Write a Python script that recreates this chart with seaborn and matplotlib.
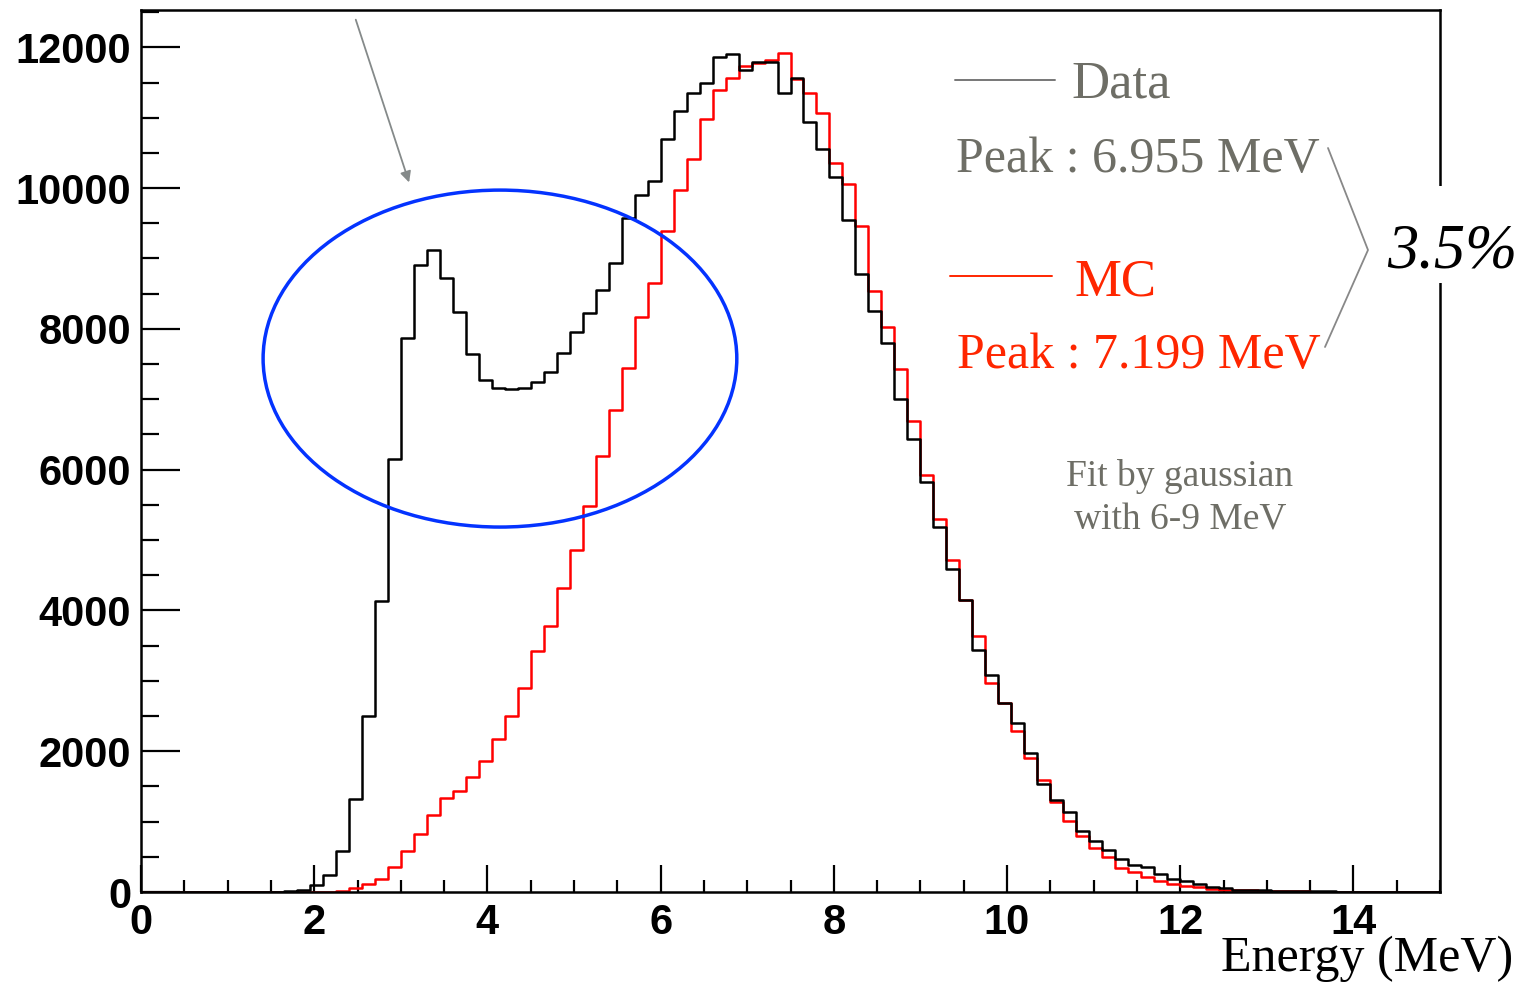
import matplotlib

matplotlib.use("Agg")

import matplotlib.pyplot as plt
import pandas as pd
import seaborn as sns
from matplotlib.lines import Line2D
from matplotlib.patches import Ellipse, Rectangle
from matplotlib.ticker import MultipleLocator


# 100 bins of 0.15 MeV from 0 to 15 MeV
BIN_WIDTH = 0.15
N_BINS = 100

data_counts = [
    0, 0, 0, 0, 0, 0, 0, 0, 0, 0,
    5, 10, 30, 100, 240, 580, 1320, 2500, 4140, 6150,
    7870, 8910, 9120, 8720, 8240, 7640, 7280, 7160, 7150, 7160,
    7250, 7390, 7660, 7960, 8230, 8550, 8940, 9580, 9900, 10100,
    10700, 11090, 11350, 11490, 11860, 11900, 11680, 11790, 11790, 11350,
    11560, 10940, 10550, 10160, 9540, 8780, 8260, 7800, 7010, 6440,
    5830, 5180, 4590, 4150, 3440, 3080, 2680, 2400, 1970, 1540,
    1300, 1130, 870, 720, 590, 470, 390, 350, 250, 180,
    150, 120, 75, 50, 35, 30, 25, 20, 15, 12,
    10, 8, 6, 5, 4, 3, 2, 2, 1, 1,
]

mc_counts = [
    0, 0, 0, 0, 0, 0, 0, 0, 0, 0,
    0, 0, 0, 0, 5, 20, 60, 120, 180, 360,
    580, 830, 1090, 1335, 1430, 1630, 1860, 2170, 2500, 2900,
    3420, 3780, 4320, 4860, 5480, 6190, 6850, 7450, 8170, 8650,
    9390, 9970, 10410, 10980, 11390, 11560, 11730, 11770, 11820, 11920,
    11550, 11350, 11060, 10360, 10060, 9460, 8540, 8020, 7430, 6690,
    5930, 5300, 4710, 4150, 3630, 2970, 2680, 2290, 1910, 1590,
    1280, 1010, 790, 620, 500, 345, 280, 210, 150, 120,
    90, 65, 45, 35, 30, 25, 20, 15, 10, 8,
    6, 4, 3, 2, 1, 0, 0, 0, 0, 0,
]

data_peak_label = "Peak : 6.955 MeV"
mc_peak_label = "Peak : 7.199 MeV"
fit_note = ["Fit by gaussian", "with 6-9 MeV"]
shift_label = "3.5%"

W, H = 1519, 984
GRAY = "#6e6e66"
RED_TEXT = "#ff2600"
SERIF = ["Liberation Serif", "DejaVu Serif"]


def px(x, y):
    return x / W, 1 - y / H


def main():
    sns.set_style("white")
    plt.rcParams["font.family"] = ["Liberation Sans", "DejaVu Sans"]

    edges = [round(i * BIN_WIDTH, 4) for i in range(N_BINS + 1)]
    centers = [(a + b) / 2 for a, b in zip(edges[:-1], edges[1:])]
    df = pd.DataFrame({"energy": centers, "data": data_counts, "mc": mc_counts})

    fig = plt.figure(figsize=(W / 100, H / 100), dpi=100)
    ax = fig.add_axes([141 / W, (H - 892) / H, (1440 - 141) / W, (892 - 10) / H])

    sns.histplot(data=df, x="energy", weights="mc", bins=edges, element="step",
                 fill=False, color="#ff0000", linewidth=1.8, ax=ax)
    sns.histplot(data=df, x="energy", weights="data", bins=edges, element="step",
                 fill=False, color="black", linewidth=1.8, ax=ax)

    ax.set_xlim(0, 15)
    ax.set_ylim(0, 12530)
    ax.set_xlabel("")
    ax.set_ylabel("")

    ax.xaxis.set_major_locator(MultipleLocator(2))
    ax.xaxis.set_minor_locator(MultipleLocator(0.5))
    ax.yaxis.set_major_locator(MultipleLocator(2000))
    ax.yaxis.set_minor_locator(MultipleLocator(500))
    ax.tick_params(which="both", direction="in", width=1.6, color="black",
                   bottom=True, left=True, top=False, right=False,
                   labelcolor="black")
    ax.tick_params(axis="x", which="major", length=19.5, pad=8)
    ax.tick_params(axis="x", which="minor", length=8.6)
    ax.tick_params(axis="y", which="major", length=28, pad=7)
    ax.tick_params(axis="y", which="minor", length=13)
    for lab in ax.get_xticklabels() + ax.get_yticklabels():
        lab.set_fontsize(30)
        lab.set_fontweight("bold")
        lab.set_color("black")
    for spine in ax.spines.values():
        spine.set_linewidth(1.8)
        spine.set_color("black")

    # highlighted region
    ax.add_patch(Ellipse((4.145, 7578), 5.47, 4787, fill=False,
                         edgecolor="#0433ff", linewidth=2.5, zorder=5))
    ax.annotate("", xy=(3.106, 10043), xytext=(2.47, 12430),
                arrowprops=dict(arrowstyle="-|>", color="#858a8a", lw=1.3,
                                mutation_scale=16),
                annotation_clip=False)

    # legend-like annotations
    fig.add_artist(Line2D([955 / W, 1055 / W], [1 - 80 / H] * 2, color="#777777",
                          lw=1.4, transform=fig.transFigure))
    fig.add_artist(Line2D([950 / W, 1052 / W], [1 - 276 / H] * 2, color=RED_TEXT,
                          lw=1.4, transform=fig.transFigure))
    fig.text(*px(1071, 97), "Data", color=GRAY, fontsize=38, family=SERIF,
             ha="left", va="baseline")
    fig.text(*px(956, 172), data_peak_label, color=GRAY, fontsize=36, family=SERIF,
             ha="left", va="baseline")
    fig.text(*px(1075, 295), "MC", color=RED_TEXT, fontsize=38, family=SERIF,
             ha="left", va="baseline")
    fig.text(*px(957, 368), mc_peak_label, color=RED_TEXT, fontsize=36, family=SERIF,
             ha="left", va="baseline")
    fig.text(*px(1180, 486), fit_note[0], color=GRAY, fontsize=27, family=SERIF,
             ha="center", va="baseline")
    fig.text(*px(1180, 530), fit_note[1], color=GRAY, fontsize=27, family=SERIF,
             ha="center", va="baseline")

    # bracket joining the two peaks
    fig.add_artist(Line2D([1328 / W, 1368 / W, 1325 / W],
                          [1 - 148 / H, 1 - 250 / H, 1 - 347 / H],
                          color="#888888", lw=1.3, transform=fig.transFigure))
    # gap in the right frame behind the percentage
    fig.add_artist(Rectangle(px(1380, 283), 139 / W, 97 / H, facecolor="white",
                             edgecolor="none", transform=fig.transFigure, zorder=10))
    fig.text(*px(1387, 268), shift_label, color="black", fontsize=45, family=SERIF,
             style="italic", ha="left", va="baseline", zorder=11)

    fig.text(*px(1513, 971), "Energy (MeV)", color="black", fontsize=36,
             family=SERIF, ha="right", va="baseline")

    fig.savefig("out.png", dpi=100)
    plt.close(fig)


if __name__ == "__main__":
    main()
